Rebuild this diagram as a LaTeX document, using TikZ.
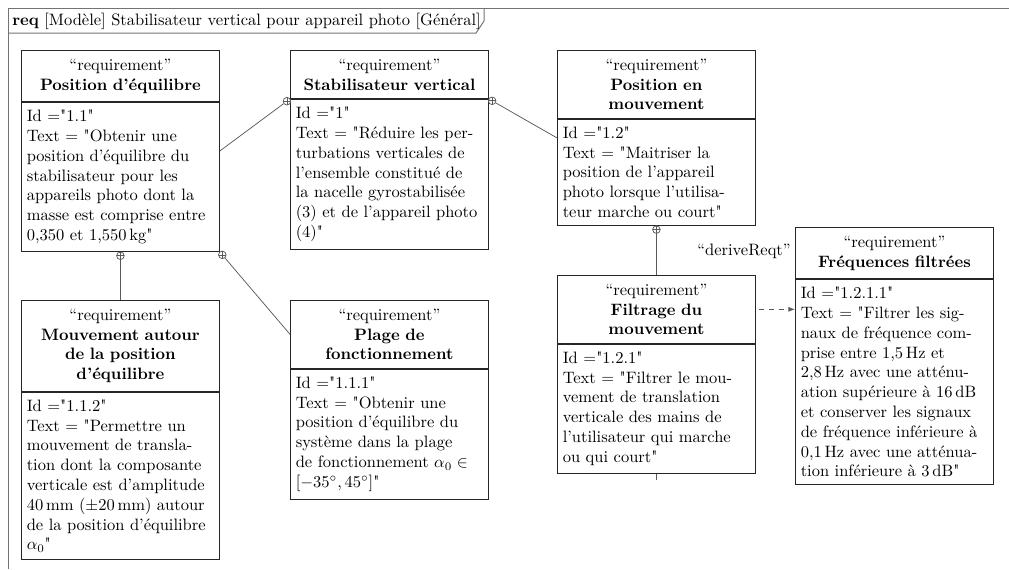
\documentclass[tikz,border=0pt]{standalone}
\usepackage{fontspec}
\setmainfont{Latin Modern Roman}[Ligatures=TeXOff]
\usetikzlibrary{calc,arrows.meta}
\newcommand\reqbox[5]{%
  \node[reqtitle, anchor=north west] (t#1) at (#2,#3) {“requirement”\\#4};
  \node[reqbody, anchor=north] (b#1) at (t#1.south) {#5};
}
\begin{document}
\begin{tikzpicture}[x=0.606pt,y=-0.606pt,
  reqtitle/.style={draw=black!85, line width=0.6pt, fill=white, text width=113.5pt, inner xsep=3.2pt, inner ysep=5pt, align=center},
  reqbody/.style={draw=black!85, line width=0.6pt, fill=white, text width=113.5pt, inner xsep=3.2pt, inner ysep=4.6pt, align=left},
  conn/.style={draw=black!65, line width=0.45pt},
  contain/.style={circle, draw=black!65, line width=0.45pt, fill=white, inner sep=0pt, minimum size=4.6pt,
    path picture={\draw[black!65, line width=0.4pt] (path picture bounding box.north) -- (path picture bounding box.south) (path picture bounding box.west) -- (path picture bounding box.east);}},
  framec/.style={draw=black!55, line width=0.6pt},
  lbl/.style={inner sep=0pt},
]
\useasboundingbox (0,0) rectangle (1009,569);

% frame
\draw[framec] (8,569) -- (8,8) -- (1009,8);
\draw[framec] (8,33) -- (476,33) -- (484,21) -- (484,8);
\node[lbl, anchor=west] (hdr) at (12,21) {\textbf{req} [Modèle] Stabilisateur vertical pour appareil photo [Général]};

% boxes
\reqbox{1}{21}{50}{\textbf{Position d’équilibre}}{Id ="1.1"\\Text = "Obtenir une\\position d’équilibre du\\stabilisateur pour les\\appareils photo dont la\\masse est comprise entre\\0,350 et 1,550\,kg"}
\reqbox{2}{290}{50}{\textbf{Stabilisateur vertical}}{Id ="1"\\Text = "Réduire les per-\\turbations verticales de\\l’ensemble constitué de\\la nacelle gyrostabilisée\\(3) et de l’appareil photo\\(4)"}
\reqbox{3}{557}{50}{\textbf{Position en}\\\textbf{mouvement}}{Id ="1.2"\\Text = "Maitriser la\\position de l’appareil\\photo lorsque l’utilisa-\\teur marche ou court"}
\reqbox{4}{21}{300}{\textbf{Mouvement autour}\\\textbf{de la position}\\\textbf{d’équilibre}}{Id ="1.1.2"\\Text = "Permettre un\\mouvement de transla-\\tion dont la composante\\verticale est d’amplitude\\40\,mm ($\pm$20\,mm) autour\\de la position d’équilibre\\$\alpha_0$"}
\reqbox{5}{290}{300}{\textbf{Plage de}\\\textbf{fonctionnement}}{Id ="1.1.1"\\Text = "Obtenir une\\position d’équilibre du\\système dans la plage\\de fonctionnement $\alpha_0\in$\\$[-35^\circ, 45^\circ]$"}
\reqbox{6}{557}{275}{\textbf{Filtrage du}\\\textbf{mouvement}}{Id ="1.2.1"\\Text = "Filtrer le mou-\\vement de translation\\verticale des mains de\\l’utilisateur qui marche\\ou qui court"}
\reqbox{7}{795}{227}{\textbf{Fréquences filtrées}}{Id ="1.2.1.1"\\Text = "Filtrer les sig-\\naux de fréquence com-\\prise entre 1,5\,Hz et\\2,8\,Hz avec une atténu-\\ation supérieure à 16\,dB\\et conserver les signaux\\de fréquence inférieure à\\0,1\,Hz avec une atténua-\\tion inférieure à 3\,dB"}

% containment connectors
\coordinate (e1) at ($(t1.north east)!0.5!(b1.south east)$);
\node[contain] (c12) at ($(t2.south west)!2.3pt!(e1)$) {};
\draw[conn] (e1) -- (c12);

\coordinate (w3) at ($(t3.north west)!0.5!(b3.south west)$);
\node[contain] (c23) at ($(t2.south east)!2.3pt!(w3)$) {};
\draw[conn] (c23) -- (w3);

\node[contain] (c36) at ($(b3.south)+(0,3.8)$) {};
\draw[conn] (c36) -- (t6.north);
\coordinate (tick6) at ($(b6.south)+(0,6)$);
\draw[conn] (b6.south) -- (tick6);

\node[contain] (c14) at ($(b1.south)+(0,3.8)$) {};
\draw[conn] (c14) -- (t4.north);

\node[contain] (c15) at ($(b1.south east)!2.3pt!(t5.west)$) {};
\draw[conn] (c15) -- (t5.west);

% deriveReqt
\draw[conn, dashed, -{Latex[length=4pt,width=3pt]}, shorten <=2pt] (t6.east) -- (t6.east -| b7.west);
\node[lbl, anchor=east] (dr) at (791,251) {“deriveReqt”};
\end{tikzpicture}
\end{document}
